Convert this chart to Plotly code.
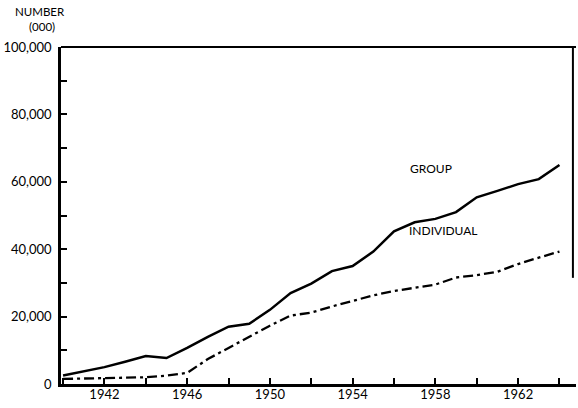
import plotly.graph_objects as go

years = list(range(1940, 1965))
group = [2500, 3700, 5000, 6600, 8300, 7700, 10700, 14000, 17000, 17900, 22000, 27000,
         29800, 33500, 35000, 39300, 45300, 48000, 49000, 51000, 55400, 57300, 59300, 60800, 65000]
individual = [1500, 1600, 1800, 1900, 2000, 2500, 3300, 7400, 10700, 14000, 17300, 20300,
              21200, 23000, 24700, 26300, 27600, 28500, 29500, 31600, 32300, 33300, 35600, 37500, 39300]

series_labels = ["GROUP", "INDIVIDUAL"]
label_pos = [(1957.8, 64000), (1958.4, 45500)]

font_family = "Lato, 'Noto Sans', sans-serif"

fig = go.Figure()
fig.add_trace(go.Scatter(x=years, y=group, mode="lines", name=series_labels[0],
                         line=dict(color="black", width=2.5)))
fig.add_trace(go.Scatter(x=years, y=individual, mode="lines", name=series_labels[1],
                         line=dict(color="black", width=2.3, dash="10px,4px,3px,4px")))

for txt, (xv, yv) in zip(series_labels, label_pos):
    fig.add_annotation(x=xv, y=yv, text=txt, showarrow=False,
                       font=dict(family=font_family, size=12, color="black"))

fig.add_annotation(xref="paper", yref="paper", x=-0.04, y=1.105, text="NUMBER",
                   xanchor="center", yanchor="middle",
                   showarrow=False, font=dict(family=font_family, size=11.5, color="black"))
fig.add_annotation(xref="paper", yref="paper", x=-0.036, y=1.06, text="(000)",
                   xanchor="center", yanchor="middle",
                   showarrow=False, font=dict(family=font_family, size=11.5, color="black"))

# top and right frame lines
fig.add_shape(type="line", xref="paper", yref="paper", x0=0, x1=1, y0=1, y1=1,
              line=dict(color="black", width=2))
fig.add_shape(type="line", xref="paper", yref="paper", x0=0.994, x1=0.994, y0=0.315, y1=1,
              line=dict(color="black", width=2))

fig.update_xaxes(range=[1939.9, 1964.8], tick0=1942, dtick=4, ticks="inside", ticklen=6,
                 tickwidth=2, tickcolor="black", showgrid=False, zeroline=False,
                 showline=True, linecolor="black", linewidth=2.5, automargin=False,
                 ticklabelstandoff=-3,
                 minor=dict(ticks="inside", dtick=2, tick0=1942, ticklen=6, tickwidth=2,
                            tickcolor="black", showgrid=False),
                 tickfont=dict(family=font_family, size=13, color="black"))
fig.update_yaxes(range=[0, 100000], dtick=20000, ticks="inside", ticklen=6, tickwidth=2,
                 tickcolor="black", showgrid=False, zeroline=False, tickformat=",d",
                 showline=True, linecolor="black", linewidth=2.5, automargin=False,
                 ticklabelstandoff=4,
                 minor=dict(ticks="inside", dtick=10000, ticklen=6, tickwidth=2,
                            tickcolor="black", showgrid=False),
                 tickfont=dict(family=font_family, size=13, color="black"))

fig.update_layout(width=578, height=408, margin=dict(l=61, r=2, t=47, b=24),
                  plot_bgcolor="white", paper_bgcolor="white", showlegend=False)

fig.write_html("out.html", config={"displayModeBar": False},
               post_script="document.body.style.margin='0';document.body.style.overflow='hidden';")
